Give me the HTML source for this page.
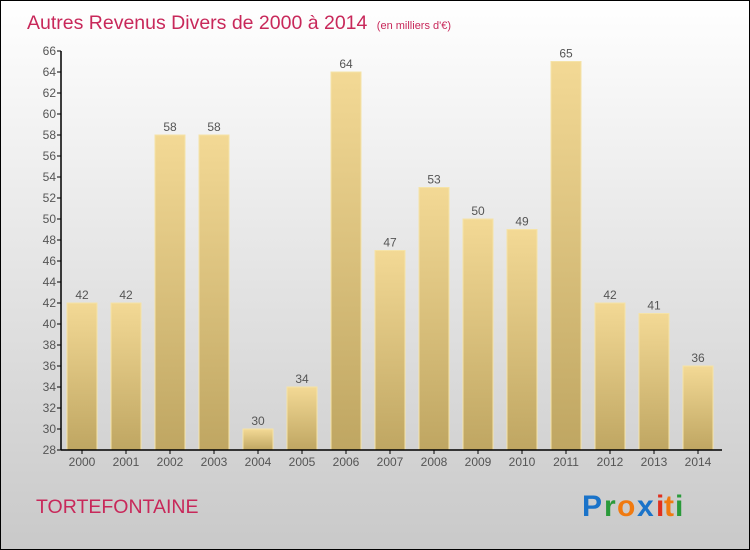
<!DOCTYPE html>
<html><head><meta charset="utf-8"><style>
html,body{margin:0;padding:0}
body{width:750px;height:550px;overflow:hidden;font-family:"Liberation Sans",sans-serif}
#wrap{position:absolute;left:0;top:0;width:748px;height:548px;border:1px solid #000;background:linear-gradient(#ffffff,#c9c9c9)}
</style></head><body>
<div id="wrap">
<svg id="chart" width="750" height="550" style="position:absolute;left:-1px;top:-1px">
<defs><linearGradient id="bg" x1="0" y1="0" x2="0" y2="1"><stop offset="0" stop-color="#f3d995"/><stop offset="1" stop-color="#bfa662"/></linearGradient></defs>
<text x="27" y="29" font-size="19.5" fill="#c8285a">Autres Revenus Divers de 2000 à 2014 <tspan font-size="11" dx="4">(en milliers d'€)</tspan></text>
<text x="36" y="513" font-size="19.5" fill="#c8285a">TORTEFONTAINE</text>
<g font-size="30" font-weight="bold" font-family="'Liberation Sans',sans-serif">
<text x="582" y="516" fill="#1a73c9">P</text><text x="604" y="516" fill="#2a9a3a">r</text><text x="617" y="516" fill="#f07a10">o</text><text x="637" y="516" fill="#1a73c9">x</text><text x="656" y="516" fill="#e0301e">i</text><text x="664" y="516" fill="#f07a10">t</text><text x="675" y="516" fill="#2a9a3a">i</text>
</g>
<g id="plot"></g>
</svg>
</div>
<script>
const years=["2000","2001","2002","2003","2004","2005","2006","2007","2008","2009","2010","2011","2012","2013","2014"];
const values=[42,42,58,58,30,34,64,47,53,50,49,65,42,41,36];
const yTicks=[28,30,32,34,36,38,40,42,44,46,48,50,52,54,56,58,60,62,64,66];
const NS="http://www.w3.org/2000/svg";
const g=document.getElementById('plot');
const y0=450,yMin=28,pxu=10.5;
function y(v){return y0-(v-yMin)*pxu;}
function x(i){return 82+i*44;}
function mk(t,a){const e=document.createElementNS(NS,t);for(const k in a)e.setAttribute(k,a[k]);g.appendChild(e);return e;}
values.forEach((v,i)=>{
 const r=mk('rect',{x:x(i)-15,y:y(v),width:30,height:y0-y(v),fill:'url(#bg)',stroke:'#f5e3a8','stroke-width':1});
 
 
 const t=mk('text',{x:x(i),y:y(v)-4,'text-anchor':'middle','font-size':12,fill:'#555'});t.textContent=v;
 
 
 const xl=mk('text',{x:x(i),y:466,'text-anchor':'middle','font-size':12,fill:'#555'});xl.textContent=years[i];
 
 
 mk('line',{x1:x(i),x2:x(i),y1:450,y2:454,stroke:'#000'});
});
yTicks.forEach(v=>{
 mk('line',{x1:57,x2:61,y1:y(v),y2:y(v),stroke:'#000'});
 const t=mk('text',{x:56,y:y(v)+4,'text-anchor':'end','font-size':12,fill:'#555'});t.textContent=v;
 
 
});
const ya=mk('line',{x1:61,x2:61,y1:y(66),y2:450,stroke:'#000','stroke-width':1.5});


const xa=mk('line',{x1:61,x2:722,y1:450,y2:450,stroke:'#000','stroke-width':1.5});


</script>
</body></html>
